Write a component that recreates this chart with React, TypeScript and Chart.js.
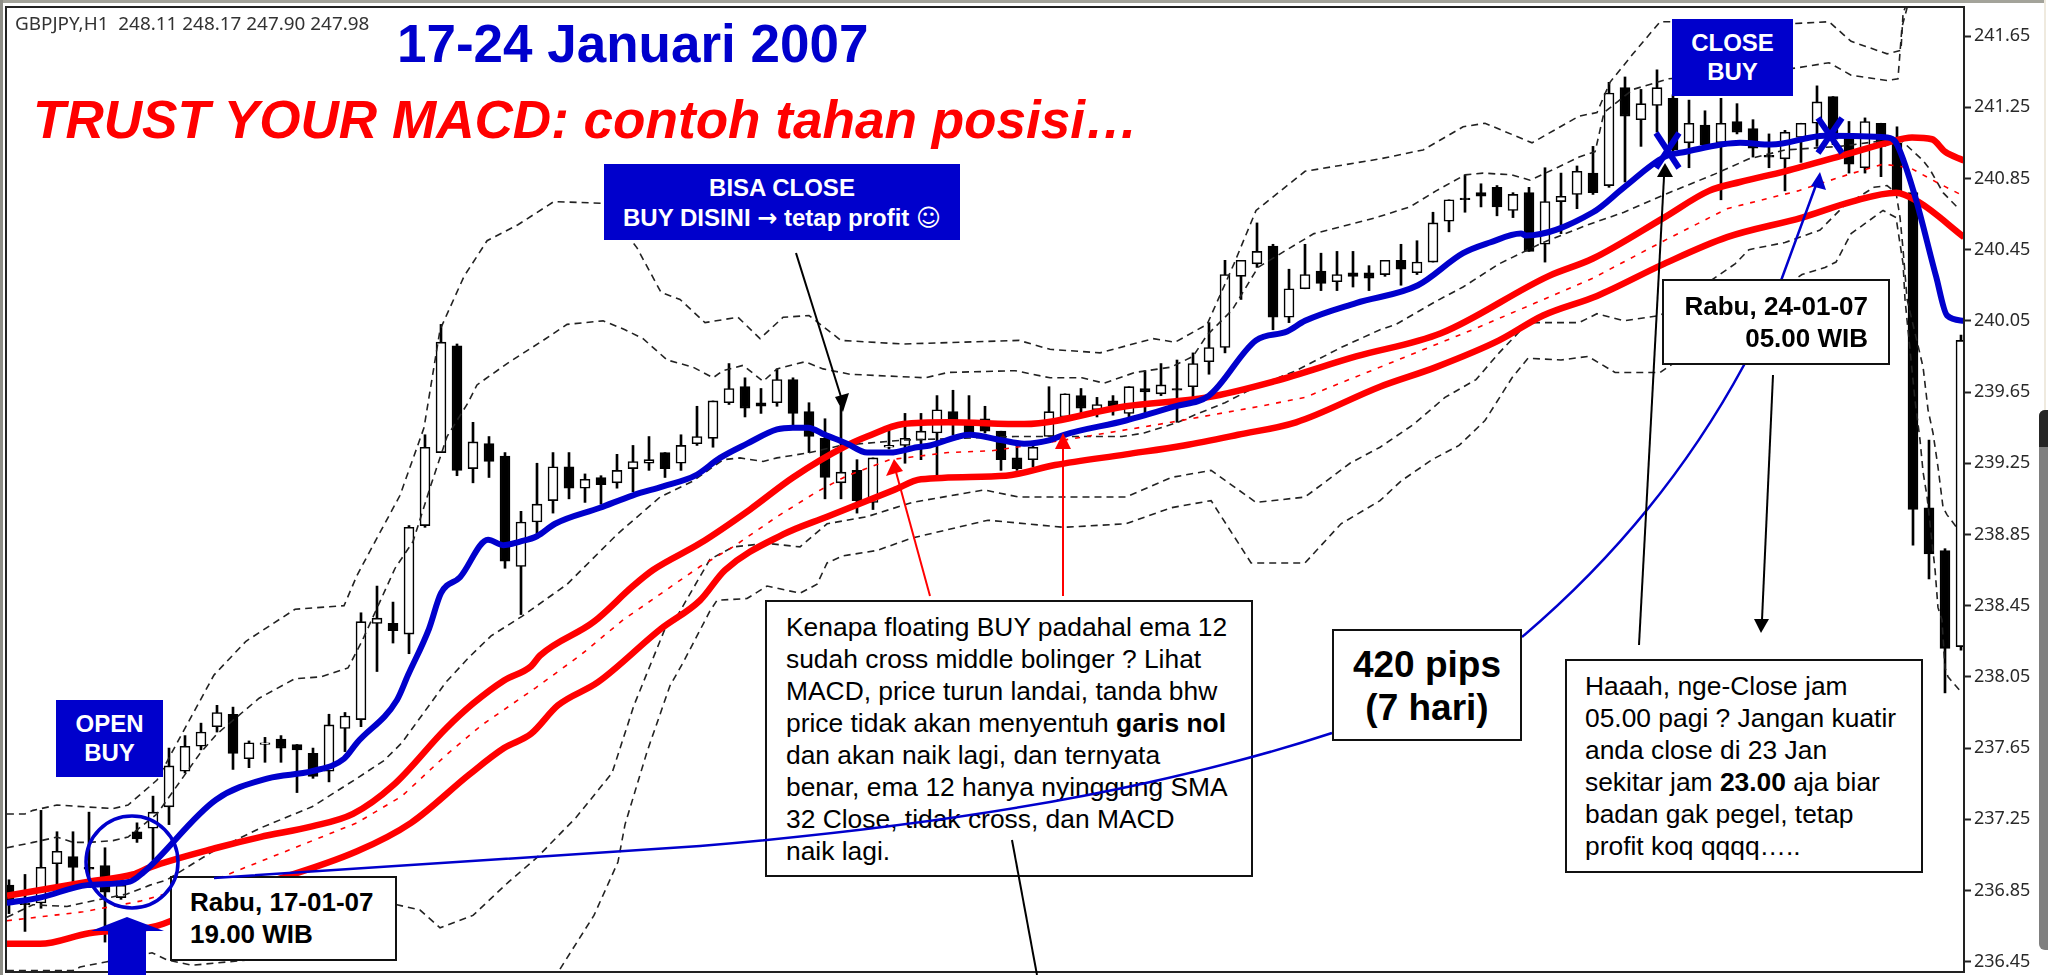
import React, { useEffect, useRef } from "react";
import { Chart, registerables } from "chart.js";

Chart.register(...registerables);

const highs = [236.91,236.94,237.30,237.18,237.18,237.29,237.09,236.89,237.23,237.38,
237.65,237.72,237.79,237.89,237.88,237.69,237.71,237.72,237.67,237.65,
237.84,237.85,238.41,238.56,238.47,238.90,239.41,240.03,239.92,239.48,
239.40,239.31,238.98,239.25,239.31,239.31,239.19,239.18,239.30,239.35,
239.40,239.31,239.41,239.57,239.60,239.81,239.73,239.67,239.78,239.73,
239.59,239.50,239.57,239.27,239.28,239.46,239.53,239.53,239.63,239.66,
239.63,239.57,239.43,239.35,239.36,239.68,239.64,239.67,239.62,239.63,
239.68,239.77,239.81,239.83,239.87,240.04,240.39,240.39,240.60,240.48,
240.34,240.48,240.43,240.44,240.44,240.36,240.39,240.48,240.50,240.66,
240.73,240.87,240.82,240.81,240.77,240.80,240.91,240.88,240.92,241.03,
241.39,241.42,241.35,241.46,241.32,241.29,241.23,241.30,241.27,241.18,
241.10,241.12,241.16,241.37,241.31,241.17,241.19,241.16,241.14,240.78,
239.38,238.77,239.97];
const lows = [236.72,236.62,236.75,236.88,236.87,236.87,236.56,236.80,237.12,237.02,
237.22,237.51,237.64,237.74,237.53,237.54,237.57,237.57,237.40,237.48,
237.46,237.63,237.77,238.08,238.24,238.18,238.89,239.31,239.18,239.14,
239.17,238.66,238.40,238.83,238.97,239.05,239.03,239.02,239.11,239.09,
239.21,239.17,239.21,239.35,239.34,239.58,239.51,239.53,239.57,239.46,
239.31,239.05,239.05,238.97,238.99,239.33,239.25,239.27,239.17,239.41,
239.42,239.42,239.21,239.21,239.23,239.40,239.51,239.52,239.51,239.52,
239.51,239.53,239.63,239.48,239.62,239.75,239.87,240.17,240.35,240.00,
240.04,240.23,240.22,240.22,240.24,240.22,240.30,240.25,240.31,240.38,
240.55,240.66,240.69,240.64,240.63,240.44,240.38,240.54,240.68,240.76,
240.80,240.83,241.03,241.11,240.98,240.91,241.03,240.73,241.10,240.97,
240.91,240.78,240.94,241.03,241.04,240.88,240.88,240.86,240.76,238.79,
238.60,237.96,238.20];
const opens = [236.88,236.78,236.78,237.00,237.04,236.98,236.99,236.81,237.18,237.20,
237.32,237.52,237.66,237.77,237.84,237.59,237.67,237.70,237.67,237.62,
237.52,237.76,237.81,238.35,238.35,238.29,238.90,239.31,239.91,239.22,
239.36,239.29,238.67,238.92,239.04,239.23,239.11,239.17,239.14,239.22,
239.25,239.31,239.25,239.36,239.39,239.59,239.68,239.59,239.59,239.72,
239.54,239.39,239.14,239.21,239.03,239.34,239.35,239.38,239.42,239.54,
239.48,239.50,239.43,239.28,239.27,239.40,239.51,239.63,239.55,239.60,
239.53,239.67,239.64,239.67,239.68,239.82,239.90,240.30,240.37,240.47,
240.07,240.23,240.33,240.27,240.32,240.32,240.31,240.39,240.32,240.38,
240.61,240.74,240.77,240.80,240.67,240.77,240.48,240.72,240.76,240.88,
240.81,241.36,241.18,241.26,241.30,241.05,241.15,241.05,241.17,241.13,
240.98,240.96,241.08,241.16,241.31,241.09,240.91,241.16,241.05,240.77,
239.00,238.76,238.22];
const closes = [236.77,236.77,236.98,237.07,236.98,236.97,236.84,236.88,237.14,237.29,
237.55,237.66,237.74,237.85,237.62,237.68,237.68,237.65,237.64,237.49,
237.78,237.83,238.36,238.38,238.31,238.89,239.34,239.93,239.21,239.37,
239.26,238.70,238.92,239.02,239.23,239.11,239.16,239.13,239.21,239.26,
239.27,239.22,239.35,239.40,239.60,239.67,239.56,239.57,239.72,239.53,
239.40,239.17,239.20,239.04,239.28,239.35,239.39,239.43,239.55,239.47,
239.42,239.43,239.27,239.22,239.34,239.54,239.64,239.56,239.58,239.57,
239.68,239.65,239.69,239.66,239.81,239.90,240.31,240.39,240.44,240.07,
240.23,240.31,240.26,240.31,240.30,240.29,240.39,240.34,240.38,240.60,
240.73,240.73,240.75,240.69,240.76,240.44,240.72,240.75,240.89,240.77,
241.33,241.20,241.27,241.36,241.01,241.16,241.04,241.16,241.11,241.02,
240.97,241.11,241.16,241.28,241.07,240.93,241.17,241.03,240.77,238.99,
238.74,238.21,239.94];

const priceTicks = [241.65,241.25,240.85,240.45,240.05,239.65,239.25,238.85,238.45,238.05,237.65,237.25,236.85,236.45];

const ema12X = [-0.13,1.94,4.88,7.56,8.38,12.94,16.19,18.94,20.94,21.75,24.25,24.94,26.25,27,28.19,29.94,30.88,31.94,33,34.13,36.94,39,40.88,42.88,44.44,46.13,48,49,49.94,51,52.38,53.63,55.06,56.75,57.56,60.06,62,63.44,65.06,65.94,69.81,72.88,75,77.94,79.88,81,84.19,88.06,90.88,92.56,94.5,94.81,99,100.94,103.44,104.81,108.19,110.13,113.5,117.38,117.94,119.06,120.44,121.13,122.19];
const ema12Y = [236.78,236.81,236.88,236.90,236.95,237.36,237.48,237.52,237.59,237.68,237.92,238.06,238.32,238.52,238.61,238.82,238.79,238.81,238.84,238.91,239.00,239.07,239.12,239.18,239.28,239.36,239.44,239.45,239.45,239.41,239.36,239.31,239.31,239.34,239.35,239.41,239.38,239.36,239.38,239.41,239.49,239.57,239.63,239.94,239.99,240.05,240.15,240.25,240.43,240.49,240.54,240.53,240.66,240.80,240.97,241.00,241.05,241.04,241.09,241.08,241.05,240.77,240.30,240.08,240.05];

const redUpperX = [-0.13,5.06,7.75,8.81,13,15.69,18.94,21.5,24,27.31,29,30.94,32.63,33.19,36.56,39,40.25,43.19,46.31,49,52.38,53.63,55.88,58.69,63.44,69.81,74.88,79.06,84.19,89.5,96.19,99,103.44,106.25,108.19,111,114.63,117.38,118.94,120.19,121,122.19];
const redUpperY = [236.82,236.90,236.94,236.98,237.09,237.15,237.21,237.28,237.44,237.76,237.90,238.03,238.11,238.17,238.36,238.56,238.65,238.80,238.99,239.17,239.35,239.40,239.47,239.48,239.47,239.57,239.62,239.71,239.85,239.98,240.30,240.40,240.63,240.78,240.83,240.89,240.98,241.05,241.08,241.07,241.00,240.95];

const redLowerX = [-0.13,1.94,5,9.19,13.38,21.75,25.13,28.75,30.94,32.63,34.31,36.81,40.75,43.19,44.75,48.38,51.13,55.31,57,62.31,65.38,69.81,73.44,76.81,80.44,85.69,89.19,93.13,95.88,99.25,103.44,107.38,112.06,115.19,117.94,119.31,122.19];
const redLowerY = [236.55,236.55,236.61,236.65,236.81,237.07,237.23,237.50,237.65,237.73,237.89,238.02,238.32,238.48,238.65,238.85,238.95,239.10,239.16,239.18,239.24,239.30,239.35,239.41,239.48,239.68,239.79,239.94,240.08,240.19,240.37,240.52,240.63,240.72,240.77,240.72,240.52];

const redMidX = [-0.13,4.63,8.19,12.56,16.19,21.75,24.56,27.31,29.56,32.94,35.69,38.38,43.19,45.25,48,50.5,52.38,55.06,58.69,61.44,65.94,72.63,78.19,81,85.69,91.75,95.38,99,103.44,107.38,111.81,114.88,117.13,118.81,120.44,122.19];
const redMidY = [236.68,236.73,236.79,236.90,237.03,237.23,237.38,237.61,237.78,237.99,238.17,238.37,238.67,238.78,238.95,239.09,239.18,239.27,239.31,239.32,239.38,239.48,239.57,239.62,239.79,240.01,240.15,240.29,240.50,240.68,240.78,240.87,240.93,240.91,240.83,240.75];

const bbOuterUpX = [-0.13,1,1.5,3,6.5,7.44,9.25,10.69,12.81,14.81,17.88,20.94,21.75,22.88,24.44,25.94,26.94,28.44,29.88,31.81,34.06,37.13,39.25,40.75,41.94,43.5,45.56,46.94,48.38,50,52,55.88,63.13,65.06,68.19,71.5,72.88,74.88,76.56,77.94,81,85.69,88.38,90.88,92.25,95.19,98.13,99.25,100.06,101.5,103.19,104,111.5,113.75,115.13,117.38,118.25,118.38,118.7];
const bbOuterUpY = [237.28,237.28,237.30,237.33,237.31,237.33,237.47,237.71,238.06,238.25,238.43,238.45,238.62,238.81,239.07,239.45,240.00,240.30,240.50,240.59,240.72,240.71,240.46,240.21,240.17,240.04,240.07,239.95,240.07,240.08,239.94,239.92,239.94,239.89,239.87,239.95,239.93,240.03,240.37,240.67,240.89,240.96,241.01,241.14,241.16,241.05,241.20,241.22,241.39,241.55,241.73,241.73,241.72,241.73,241.62,241.55,241.57,241.78,241.85];

const bbInnerUpX = [-0.13,1.5,3,4,4.94,6.5,7.44,9.25,11.94,13,15.63,17.88,19.5,21.19,22.06,24.13,25.25,26.38,27.38,28.69,29.25,31.13,33.38,34.88,37.13,38.5,39.63,41.13,42.75,44,44.63,45.88,47.13,48,49.75,50.88,52.56,57.25,58.69,62.88,65.06,67.06,68.44,70.38,72.63,74,74.88,76.44,78.06,79.88,81.56,85.44,87.56,89.19,91,92.13,93.94,95.06,96.75,98.13,99.13,99.69,101.5,103.75,111.69,113.75,115.13,117.38,118.06,118.31,118.75];
const bbInnerUpY = [237.09,237.12,237.15,237.12,237.12,237.13,237.15,237.28,237.62,237.73,237.93,238.04,238.05,238.10,238.25,238.66,238.81,239.13,239.40,239.59,239.69,239.81,239.94,240.03,240.05,240.00,239.95,239.83,239.79,239.73,239.77,239.80,239.71,239.78,239.82,239.78,239.75,239.73,239.76,239.77,239.73,239.73,239.70,239.76,239.79,239.85,239.97,240.11,240.35,240.45,240.54,240.63,240.69,240.78,240.87,240.88,240.87,240.84,240.91,240.97,241.00,241.22,241.35,241.41,241.47,241.50,241.43,241.40,241.41,241.70,241.85];

const bbMiddleX = [-0.13,1.5,3.63,4.63,5.69,7.38,8.81,9.88,11.13,12.75,15.69,17.31,18.94,21.75,23.44,24.56,27.31,28.75,30.13,32.06,34.88,38,40.69,42.75,44.63,45.69,47.13,48,50.06,52,55.88,62.88,69.56,70.94,73.06,74.06,76,77.94,80.44,83.25,85.69,86.69,89.19,90.88,93.13,95.88,98.69,100.94,103.75,106.5,108.75,111,114.44,116.94,118.19,119.63,120.06,120.88,121.75];
const bbMiddleY = [236.70,236.77,236.76,236.78,236.80,236.83,236.88,236.91,236.98,237.07,237.20,237.26,237.32,237.48,237.58,237.68,238.02,238.16,238.28,238.39,238.57,238.85,239.06,239.15,239.27,239.28,239.26,239.28,239.31,239.35,239.38,239.40,239.40,239.42,239.48,239.52,239.59,239.68,239.77,239.90,240.00,240.03,240.16,240.24,240.37,240.49,240.59,240.66,240.77,240.87,240.96,241.01,241.03,241.06,241.07,240.95,240.90,240.77,240.69];

const bbInnerLowX = [-0.13,4,4.44,6.13,8.94,9.88,11.44,16.19,19.5,21.5,24.25,25.69,26.94,29,31.25,32.94,35.44,37.69,39.06,41,41.75,43.81,45.25,47.38,49.44,51.13,53.63,56.44,60.94,63.13,69.81,72.63,75.13,77.94,81,83.81,85.69,87.81,89.75,91.69,93.13,94.94,96.44,98.13,99.25,100.94,103.19,107.88,108.75,111,113.19,114.63,116.56,117.38,117.94,118.19,118.38,118.63,119.63,119.94,120.25,120.56,120.88,121.13,121.81];
const bbInnerLowY = [236.39,236.40,236.42,236.45,236.50,236.46,236.43,236.47,236.62,236.75,236.77,236.74,236.64,236.71,236.90,237.03,237.26,237.51,237.89,238.32,238.39,238.71,238.78,238.80,238.78,238.91,238.95,239.03,239.10,239.06,239.06,239.17,239.21,239.03,239.06,239.25,239.34,239.47,239.62,239.72,239.87,240.04,240.04,240.04,240.09,240.05,240.08,240.37,240.45,240.49,240.56,240.69,240.80,240.81,240.77,240.63,240.45,240.17,239.79,239.55,239.42,239.23,239.00,238.96,238.88];

const bbOuterLowX = [-0.13,4,5.06,33.19,34.31,36.56,38.06,38.5,39.88,41.31,42.13,43.81,44.25,46.13,47.38,49.44,50.5,51.13,52.13,54.25,56.44,61.19,65.94,69.81,72.63,75.13,77.63,81,83.25,85.69,87,88.94,90.63,92.25,93.94,94.94,97,98.69,100.38,103.19,112.06,113.5,114.19,115.13,117.13,117.94,118.38,118.5,118.81,119.13,119.44,119.63,119.88,120.38,120.56,120.81,121,121.19,122.06];
const bbOuterLowY = [236.40,236.40,236.32,236.32,236.39,236.71,237.01,237.22,237.63,238.00,238.13,238.42,238.48,238.49,238.56,238.52,238.57,238.69,238.73,238.76,238.83,238.93,238.89,238.91,239.00,239.04,238.69,238.69,238.91,239.04,239.15,239.27,239.35,239.49,239.73,239.84,239.83,239.85,239.76,239.76,240.31,240.35,240.38,240.54,240.67,240.63,240.37,240.17,239.89,239.60,239.38,239.20,239.06,238.65,238.44,238.37,238.10,238.05,237.96];

const headerText = "GBPJPY,H1  248.11 248.17 247.90 247.98";
const kenapaLines = [
  "Kenapa floating BUY padahal ema 12",
  "sudah cross middle bolinger ? Lihat",
  "MACD, price turun landai, tanda bhw",
];
const kenapaTail = [
  "dan akan naik lagi, dan ternyata",
  "benar, ema 12 hanya nyinggung SMA",
  "32 Close, tidak cross, dan MACD",
  "naik lagi.",
];

const BLUE = "#0000cc";
const SANS = '"Liberation Sans", Arial, sans-serif';

const zip = (xs: number[], ys: number[]) => xs.map((x, i) => ({ x, y: ys[i] }));

const solid = (xs: number[], ys: number[], color: string, width: number, order: number) => ({
  type: "line" as const,
  data: zip(xs, ys),
  borderColor: color,
  borderWidth: width,
  pointRadius: 0,
  cubicInterpolationMode: "monotone" as const,
  order,
});
const dashed = (xs: number[], ys: number[], color: string, dash: number[], order: number) => ({
  ...solid(xs, ys, color, 1.6, order),
  cubicInterpolationMode: "default" as const,
  tension: 0,
  borderDash: dash,
});

const box = (l: number, t: number, r: number, b: number, extra: React.CSSProperties = {}): React.CSSProperties => ({
  position: "absolute",
  left: l,
  top: t,
  width: r - l,
  height: b - t,
  boxSizing: "border-box",
  fontFamily: SANS,
  ...extra,
});

const Line = ({ y, x, size, weight, children, color = "#000", right }: any) => (
  <div
    style={{
      position: "absolute",
      left: right === undefined ? x : undefined,
      right,
      top: y - size * 0.6,
      lineHeight: `${size * 1.2}px`,
      fontSize: size,
      fontWeight: weight ?? "normal",
      fontFamily: SANS,
      color,
      whiteSpace: "pre",
    }}
  >
    {children}
  </div>
);

const Centered = ({ l, r, y, size, children, color = "#fff" }: any) => (
  <div
    style={{
      position: "absolute",
      left: l,
      width: r - l,
      top: y - size * 0.6,
      lineHeight: `${size * 1.2}px`,
      fontSize: size,
      fontWeight: "bold",
      fontFamily: SANS,
      color,
      textAlign: "center",
      whiteSpace: "pre",
    }}
  >
    {children}
  </div>
);

const framePlugin = {
  id: "frame",
  afterDraw(chart: any) {
    const { ctx, chartArea: a } = chart;
    ctx.save();
    ctx.strokeStyle = "#222";
    ctx.lineWidth = 2;
    ctx.strokeRect(a.left, a.top, a.right - a.left, a.bottom - a.top);
    ctx.restore();
  },
};

export default function App() {
  const ref = useRef<HTMLCanvasElement | null>(null);
  useEffect(() => {
    const idx = highs.map((_, i) => i);
    const chart = new Chart(ref.current as HTMLCanvasElement, {
      type: "bar",
      data: {
        datasets: [
          dashed(bbOuterUpX, bbOuterUpY, "#222", [7, 5], 5),
          dashed(bbInnerUpX, bbInnerUpY, "#222", [7, 5], 5),
          dashed(bbMiddleX, bbMiddleY, "#222", [7, 5], 5),
          dashed(bbInnerLowX, bbInnerLowY, "#222", [7, 5], 5),
          dashed(bbOuterLowX, bbOuterLowY, "#222", [7, 5], 5),
          dashed(redMidX, redMidY, "#ff0000", [5, 7], 4),
          solid(redLowerX, redLowerY, "#ff0000", 6.5, 3),
          solid(redUpperX, redUpperY, "#ff0000", 6.5, 2),
          solid(ema12X, ema12Y, BLUE, 6, 1),
          {
            type: "bar",
            data: idx.map((i) => ({ x: i, y: [lows[i], highs[i]] })),
            backgroundColor: "#000",
            barThickness: 2,
            grouped: false,
            order: 8,
          },
          {
            type: "bar",
            data: idx.map((i) => ({ x: i, y: [opens[i], closes[i]] })),
            backgroundColor: idx.map((i) => (closes[i] >= opens[i] ? "#fff" : "#000")),
            borderColor: "#000",
            borderWidth: 1.6,
            borderSkipped: false,
            barThickness: 10,
            grouped: false,
            order: 7,
          },
        ] as any,
      },
      options: {
        animation: false,
        responsive: false,
        events: [],
        layout: { padding: { left: 6, top: 7, bottom: 3, right: 0 } },
        plugins: { legend: { display: false }, tooltip: { enabled: false } },
        scales: {
          x: { type: "linear", display: false, offset: false, min: -0.1875, max: 122.1875 },
          y: {
            type: "linear",
            position: "right",
            min: 236.392,
            max: 241.813,
            afterBuildTicks(axis: any) {
              axis.ticks = priceTicks.map((value) => ({ value }));
            },
            afterFit(axis: any) {
              axis.width = 92;
              axis.paddingTop = 0;
              axis.paddingBottom = 0;
            },
            border: { color: "#222", width: 2 },
            grid: { drawOnChartArea: false, tickLength: 7, tickColor: "#222", tickWidth: 2 },
            ticks: {
              padding: 3,
              color: "#2a2a2a",
              font: { family: '"Noto Sans"', size: 18 },
              autoSkip: false,
              maxRotation: 0,
              callback: (v: any) => Number(v).toFixed(2),
            },
          },
        },
      } as any,
      plugins: [framePlugin],
    });
    return () => chart.destroy();
  }, []);

  return (
    <div style={{ position: "absolute", left: 0, top: 0, width: 2056, height: 975, background: "#fff", overflow: "hidden" }}>
      <canvas ref={ref} width={2056} height={975} style={{ position: "absolute", left: 0, top: 0, width: 2056, height: 975, filter: "blur(0.4px)" }} />

      <div style={box(0, 0, 2044, 3, { background: "#a3a39a" })} />
      <div style={box(0, 0, 3, 975, { background: "#8f8f88" })} />
      <div style={box(2044, 0, 2046, 410, { background: "#efeadf" })} />
      <div style={box(2039, 410, 2048, 950, { background: "#7f7f7f", borderRadius: "6px 0 0 6px" })} />
      <div style={box(2039, 410, 2048, 447, { background: "#262626", borderRadius: "6px 0 0 0" })} />

      <div style={{ position: "absolute", left: 15, top: 12, lineHeight: "22px", fontSize: 18.9, fontFamily: '"Noto Sans"', color: "#333", whiteSpace: "pre" }}>{headerText}</div>

      <Line x={397} y={44} size={53} weight="bold" color={BLUE}>17-24 Januari 2007</Line>
      <div style={{ position: "absolute", left: 33, top: 88, lineHeight: "64px", fontSize: 53.1, fontWeight: "bold", fontStyle: "italic", fontFamily: SANS, color: "#ff0000", whiteSpace: "pre" }}>
        TRUST YOUR MACD: contoh tahan posisi…
      </div>

      <div style={box(604, 164, 960, 240, { background: BLUE })} />
      <Centered l={604} r={960} y={188} size={24}>BISA CLOSE</Centered>
      <Centered l={604} r={960} y={218} size={24}>BUY DISINI <span style={{ fontFamily: '"DejaVu Sans"' }}>→</span> tetap profit <span style={{ fontFamily: '"DejaVu Sans"', fontWeight: "normal" }}>☺</span></Centered>

      <div style={box(56, 700, 163, 777, { background: BLUE })} />
      <Centered l={56} r={163} y={724} size={24}>OPEN</Centered>
      <Centered l={56} r={163} y={753} size={24}>BUY</Centered>

      <div style={box(1672, 19, 1793, 96, { background: BLUE })} />
      <Centered l={1672} r={1793} y={43} size={24}>CLOSE</Centered>
      <Centered l={1672} r={1793} y={72} size={24}>BUY</Centered>

      <div style={box(765, 600, 1253, 877, { background: "#fff", border: "2px solid #111" })} />
      {kenapaLines.map((t, i) => (
        <Line key={t} x={786} y={628 + 32 * i} size={26.4}>{t}</Line>
      ))}
      <Line x={786} y={724} size={26.4}>price tidak akan menyentuh <b>garis nol</b></Line>
      {kenapaTail.map((t, i) => (
        <Line key={t} x={786} y={756 + 32 * i} size={26.4}>{t}</Line>
      ))}

      <div style={box(1565, 659, 1923, 873, { background: "#fff", border: "2px solid #111" })} />
      <Line x={1585} y={687} size={26.4}>Haaah, nge-Close jam</Line>
      <Line x={1585} y={719} size={26.4}>05.00 pagi ? Jangan kuatir</Line>
      <Line x={1585} y={751} size={26.4}>anda close di 23 Jan</Line>
      <Line x={1585} y={783} size={26.4}>sekitar jam <b>23.00</b> aja biar</Line>
      <Line x={1585} y={815} size={26.4}>badan gak pegel, tetap</Line>
      <Line x={1585} y={847} size={26.4}>profit koq qqqq…..</Line>

      <div style={box(170, 876, 397, 961, { background: "#fff", border: "2px solid #111" })} />
      <Line x={190} y={903} size={26} weight="bold">Rabu, 17-01-07</Line>
      <Line x={190} y={935} size={26} weight="bold">19.00 WIB</Line>

      <svg width={2056} height={975} style={{ position: "absolute", left: 0, top: 0 }}>
        <ellipse cx={132} cy={862} rx={46} ry={46} fill="none" stroke={BLUE} strokeWidth={3.5} />
        <polygon points="127,917 164,931 146,931 146,975 108,975 108,931 91,931" fill={BLUE} />
        <path d="M214 878 L700 846 Q960 824 1146 783 Q1250 760 1332 733" fill="none" stroke={BLUE} strokeWidth={2.5} />
        <path d="M1522 637 Q1660 520 1744 365 L1782 278 L1816 185" fill="none" stroke={BLUE} strokeWidth={2.5} />
        <polygon points="1820,172 1811,186 1826,190" fill={BLUE} />

        <line x1={796} y1={253} x2={842} y2={400} stroke="#000" strokeWidth={2} />
        <polygon points="843,412 835,397 849,393" fill="#000" />
        <line x1={930} y1={596} x2={896} y2={472} stroke="#f00" strokeWidth={2} />
        <polygon points="894,459 886,476 903,471" fill="#f00" />
        <line x1={1063} y1={596} x2={1063} y2={449} stroke="#f00" strokeWidth={2} />
        <polygon points="1063,433 1055,449 1071,449" fill="#f00" />
        <line x1={1639} y1={645} x2={1664} y2={177} stroke="#000" strokeWidth={2} />
        <polygon points="1665,163 1657,177 1673,177" fill="#000" />
        <line x1={1773} y1={375} x2={1762} y2={620} stroke="#000" strokeWidth={2} />
        <polygon points="1761,633 1754,619 1769,619" fill="#000" />
        <line x1={1012} y1={840} x2={1037} y2={975} stroke="#000" strokeWidth={2} />

        <g stroke={BLUE} strokeWidth={6} fill="none">
          <line x1={1656} y1={133} x2={1679} y2={168} />
          <line x1={1679} y1={133} x2={1656} y2={168} />
          <line x1={1818} y1={118} x2={1842} y2={153} />
          <line x1={1842} y1={118} x2={1818} y2={153} />
        </g>
      </svg>

      <div style={box(1332, 629, 1522, 741, { background: "#fff", border: "2px solid #111" })} />
      <Centered l={1332} r={1522} y={665} size={37} color="#000">420 pips</Centered>
      <Centered l={1332} r={1522} y={708} size={37} color="#000">(7 hari)</Centered>

      <div style={box(1662, 279, 1890, 365, { background: "#fff", border: "2px solid #111" })} />
      <Line right={2056 - 1868} y={307} size={26} weight="bold">Rabu, 24-01-07</Line>
      <Line right={2056 - 1868} y={339} size={26} weight="bold">05.00 WIB</Line>
    </div>
  );
}
